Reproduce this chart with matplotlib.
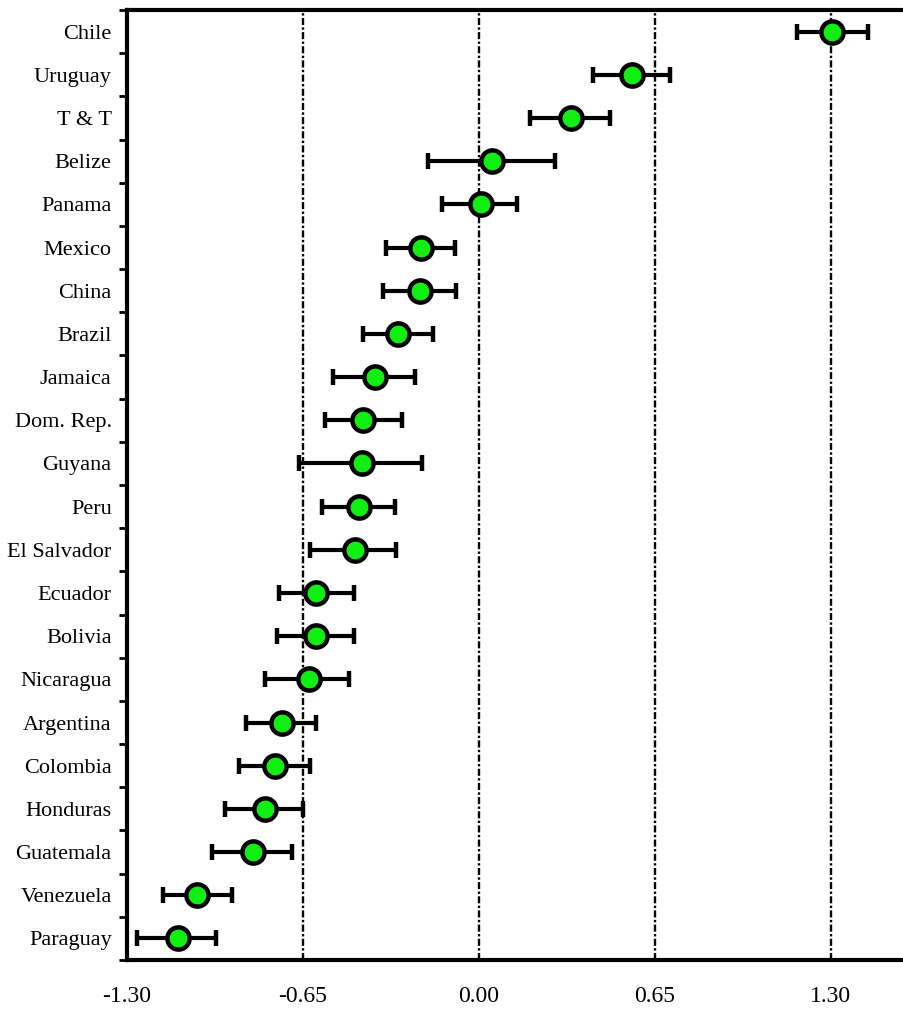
import numpy as np
import matplotlib
matplotlib.use("Agg")
from matplotlib import pyplot as plt

countries = ["Chile", "Uruguay", "T & T", "Belize", "Panama", "Mexico", "China",
             "Brazil", "Jamaica", "Dom. Rep.", "Guyana", "Peru", "El Salvador",
             "Ecuador", "Bolivia", "Nicaragua", "Argentina", "Colombia",
             "Honduras", "Guatemala", "Venezuela", "Paraguay"]
estimate = [1.305, 0.564, 0.340, 0.048, 0.007, -0.214, -0.218, -0.299, -0.384,
            -0.428, -0.432, -0.442, -0.458, -0.602, -0.602, -0.628, -0.727,
            -0.753, -0.790, -0.835, -1.042, -1.113]
lower = [1.174, 0.421, 0.188, -0.188, -0.137, -0.343, -0.355, -0.428, -0.539,
         -0.569, -0.665, -0.581, -0.624, -0.739, -0.746, -0.790, -0.860,
         -0.886, -0.938, -0.987, -1.168, -1.264]
upper = [1.437, 0.704, 0.484, 0.281, 0.140, -0.089, -0.085, -0.170, -0.236,
         -0.284, -0.210, -0.310, -0.308, -0.462, -0.462, -0.480, -0.602,
         -0.624, -0.650, -0.689, -0.911, -0.971]
xticks = [-1.30, -0.65, 0.00, 0.65, 1.30]

plt.rcParams['font.family'] = ['Liberation Serif', 'DejaVu Serif']

fig = plt.figure(figsize=(9.04, 10.11), dpi=100)
ax = fig.add_axes([127 / 904, 51 / 1011, 1 - 127 / 904, 950 / 1011])

est = np.array(estimate)
xerr = np.vstack([est - np.array(lower), np.array(upper) - est])
ypos = np.arange(len(countries))

# reference lines
for xv in xticks:
    ax.axvline(xv, color='black', lw=1.7, linestyle=(0, (3, 1, 1, 1)), zorder=1)

ax.errorbar(est, ypos, xerr=xerr, fmt='o', color='black', ecolor='black',
            elinewidth=3, capsize=6, capthick=3.5,
            markersize=16, markerfacecolor='#11ee11', markeredgecolor='black',
            markeredgewidth=3.2, zorder=3)

ax.set_xlim(-1.30, 1.57)
ax.set_ylim(len(countries) - 0.5, -0.5)

ax.set_xticks(xticks)
ax.set_xticklabels([f"{v:.2f}" for v in xticks], fontsize=17)
ax.tick_params(axis='x', length=0, pad=19)

# labels at category centres, tick marks at the boundaries
ax.set_yticks(ypos)
ax.set_yticklabels(countries, fontsize=16)
ax.set_yticks(np.arange(len(countries) + 1) - 0.5, minor=True)
ax.tick_params(axis='y', which='major', length=0, pad=11)
ax.tick_params(axis='y', which='minor', length=6, width=2)

for side in ['left', 'top', 'bottom']:
    ax.spines[side].set_linewidth(3)
ax.spines['right'].set_visible(False)

fig.savefig("out.png", dpi=100)
